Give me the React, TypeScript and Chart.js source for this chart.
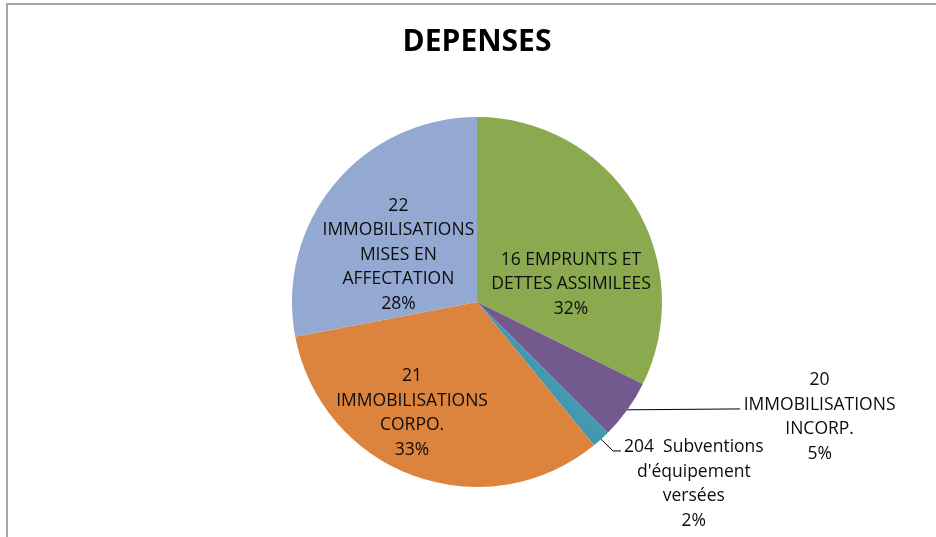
import React, { useEffect, useRef } from "react";
import { Chart, registerables } from "chart.js";

Chart.register(...registerables);

const TITLE = "DEPENSES";
const CATEGORIES = [
  ["16 EMPRUNTS ET", "DETTES ASSIMILEES"],
  ["20", "IMMOBILISATIONS", "INCORP."],
  ["204  Subventions", "d'équipement", "versées"],
  ["21", "IMMOBILISATIONS", "CORPO."],
  ["22", "IMMOBILISATIONS", "MISES EN", "AFFECTATION"],
];
const VALUES = [32.3, 5.2, 1.6, 32.9, 28.0];
const COLORS = ["#8BA94F", "#74598F", "#4198AF", "#DC843E", "#93A9D1"];

// label block centres, in units of the pie radius, relative to the pie centre
const LABEL_POS: [number, number][] = [
  [0.508, -0.103],
  [1.852, 0.615],
  [1.172, 0.976],
  [-0.351, 0.593],
  [-0.425, -0.262],
];
// leader line points after the arc edge (radius units), null = no leader
const LEADERS: ([number, number][] | null)[] = [
  null,
  [[1.422, 0.578]],
  [[0.735, 0.805], [0.778, 0.805]],
  null,
  null,
];

const FONT_FAMILY = "'Open Sans', 'DejaVu Sans', sans-serif";
const LABEL_SIZE = 17.5;
const LINE_H = 24.5;

const labelPlugin = {
  id: "sliceLabels",
  afterDatasetsDraw(chart: any) {
    const meta = chart.getDatasetMeta(0);
    const ctx: CanvasRenderingContext2D = chart.ctx;
    const data = chart.data.datasets[0].data as number[];
    const total = data.reduce((a, b) => a + b, 0);
    ctx.save();
    meta.data.forEach((arc: any, i: number) => {
      const p = arc.getProps(["x", "y", "outerRadius", "startAngle", "endAngle"], true);
      const r = p.outerRadius;
      const lead = LEADERS[i];
      if (lead) {
        const mid = (p.startAngle + p.endAngle) / 2;
        ctx.beginPath();
        ctx.strokeStyle = "#000";
        ctx.lineWidth = 1;
        ctx.moveTo(p.x + r * Math.cos(mid), p.y + r * Math.sin(mid));
        lead.forEach(([fx, fy]) => ctx.lineTo(p.x + fx * r, p.y + fy * r));
        ctx.stroke();
      }
      const lines = [...CATEGORIES[i], Math.round((data[i] / total) * 100) + "%"];
      const cx = p.x + LABEL_POS[i][0] * r;
      const cy = p.y + LABEL_POS[i][1] * r;
      ctx.font = `${LABEL_SIZE}px ${FONT_FAMILY}`;
      ctx.fillStyle = "#0d0d0d";
      ctx.textAlign = "center";
      ctx.textBaseline = "alphabetic";
      const n = lines.length;
      lines.forEach((t, k) => {
        const ly = cy + (k - (n - 1) / 2) * LINE_H;
        ctx.fillText(t, cx, ly + 0.357 * LABEL_SIZE);
      });
    });
    ctx.restore();
  },
};

export default function App() {
  const ref = useRef<HTMLCanvasElement | null>(null);
  useEffect(() => {
    if (!ref.current) return;
    const chart = new Chart(ref.current, {
      type: "pie",
      data: {
        labels: CATEGORIES.map((c) => c.join(" ")),
        datasets: [
          {
            data: VALUES,
            backgroundColor: COLORS,
            borderWidth: 0,
          },
        ],
      },
      options: {
        animation: false,
        responsive: false,
        layout: { padding: { left: 292, right: 274, top: 0, bottom: 50 } },
        plugins: {
          legend: { display: false },
          tooltip: { enabled: false },
          title: {
            display: true,
            text: TITLE,
            color: "#000",
            font: { family: FONT_FAMILY, size: 30, weight: "bold", lineHeight: 1.2 },
            padding: { top: 24, bottom: 57 },
          },
        },
      },
      plugins: [labelPlugin],
    });
    return () => chart.destroy();
  }, []);
  return (
    <div style={{ position: "fixed", left: 0, top: 0, width: 936, height: 537, background: "#fff", overflow: "hidden" }}>
      <div
        style={{
          position: "absolute",
          left: 6,
          top: 3,
          width: 960,
          height: 560,
          border: "2px solid #a6a6a6",
          boxSizing: "border-box",
        }}
      />
      <canvas ref={ref} width={936} height={537} style={{ position: "absolute", left: 0, top: 0 }} />
    </div>
  );
}
